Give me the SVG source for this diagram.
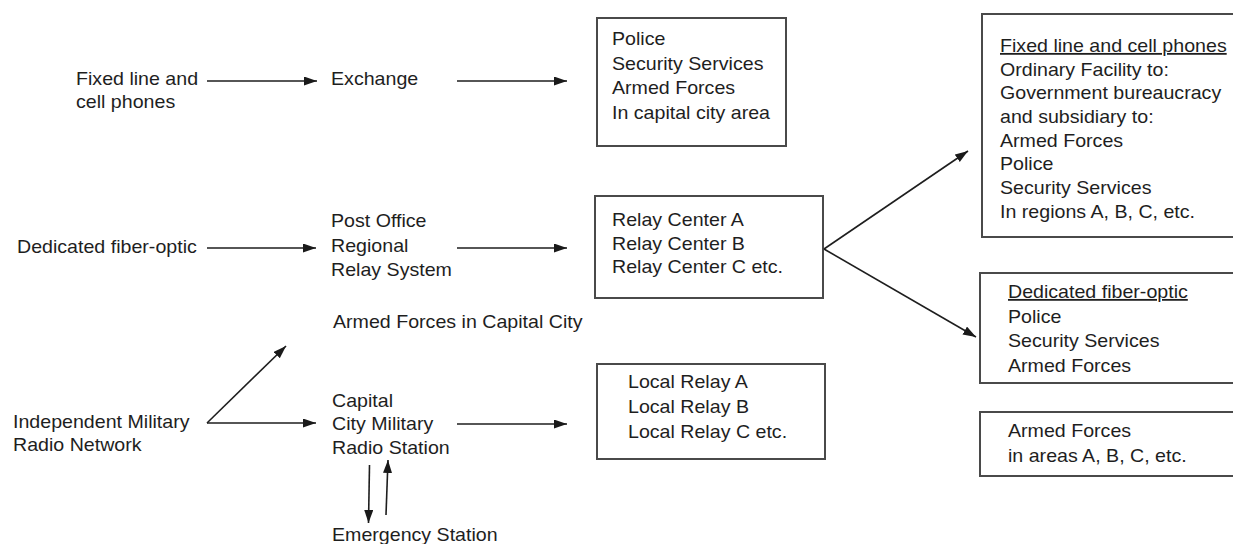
<svg xmlns="http://www.w3.org/2000/svg" width="1233" height="544" viewBox="0 0 1233 544">
<defs>
<marker id="ah" markerUnits="userSpaceOnUse" markerWidth="14" markerHeight="10" refX="13" refY="4.5" orient="auto">
<path d="M0,0 L13,4.5 L0,9 z" fill="#1a1a1a"/>
</marker>
</defs>
<style>
.t{font-family:"Liberation Sans",Arial,Helvetica,sans-serif;font-size:18px;fill:#1e1e1e}
.box{fill:#fff;stroke:#4a4a4a;stroke-width:2}
.c{stroke:#1e1e1e;stroke-width:1.6;fill:none;marker-end:url(#ah)}
.u{text-decoration:underline}
</style>
<rect width="1233" height="544" fill="#fff"/>
<g id="n-fixed-src"><text class="t" transform="translate(76,85) scale(1.09,1)"><tspan x="0" y="0">Fixed line and</tspan><tspan x="0" y="23">cell phones</tspan></text></g>
<g id="n-exchange"><text class="t" transform="translate(331,85) scale(1.09,1)">Exchange</text></g>
<g id="n-capital-services"><rect class="box" x="597" y="18" width="189" height="128"/><text class="t" transform="translate(612,45) scale(1.09,1)"><tspan x="0" y="0">Police</tspan><tspan x="0" y="25">Security Services</tspan><tspan x="0" y="49">Armed Forces</tspan><tspan x="0" y="74">In capital city area</tspan></text></g>
<g id="n-fixed-dest"><rect class="box" x="982" y="14" width="260" height="223"/><text class="t" transform="translate(1000,52) scale(1.09,1)"><tspan x="0" y="0" class="u">Fixed line and cell phones</tspan><tspan x="0" y="24">Ordinary Facility to:</tspan><tspan x="0" y="47">Government bureaucracy</tspan><tspan x="0" y="71">and subsidiary to:</tspan><tspan x="0" y="95">Armed Forces</tspan><tspan x="0" y="118">Police</tspan><tspan x="0" y="142">Security Services</tspan><tspan x="0" y="166">In regions A, B, C, etc.</tspan></text></g>
<g id="n-fiber-src"><text class="t" transform="translate(17,253) scale(1.09,1)">Dedicated fiber-optic</text></g>
<g id="n-postoffice"><text class="t" transform="translate(331,227) scale(1.09,1)"><tspan x="0" y="0">Post Office</tspan><tspan x="0" y="25">Regional</tspan><tspan x="0" y="49">Relay System</tspan></text></g>
<g id="n-relay-centers"><rect class="box" x="595" y="196" width="228" height="102"/><text class="t" transform="translate(612,226) scale(1.09,1)"><tspan x="0" y="0">Relay Center A</tspan><tspan x="0" y="24">Relay Center B</tspan><tspan x="0" y="47">Relay Center C etc.</tspan></text></g>
<g id="n-fiber-dest"><rect class="box" x="980" y="273" width="262" height="110"/><text class="t" transform="translate(1008,298) scale(1.09,1)"><tspan x="0" y="0" class="u">Dedicated fiber-optic</tspan><tspan x="0" y="25">Police</tspan><tspan x="0" y="49">Security Services</tspan><tspan x="0" y="74">Armed Forces</tspan></text></g>
<g id="n-armed-capital"><text class="t" transform="translate(333,328) scale(1.09,1)">Armed Forces in Capital City</text></g>
<g id="n-radio-src"><text class="t" transform="translate(13,428) scale(1.09,1)"><tspan x="0" y="0">Independent Military</tspan><tspan x="0" y="23">Radio Network</tspan></text></g>
<g id="n-radio-station"><text class="t" transform="translate(332,407) scale(1.09,1)"><tspan x="0" y="0">Capital</tspan><tspan x="0" y="23">City Military</tspan><tspan x="0" y="47">Radio Station</tspan></text></g>
<g id="n-local-relays"><rect class="box" x="597" y="364" width="228" height="95"/><text class="t" transform="translate(628,388) scale(1.09,1)"><tspan x="0" y="0">Local Relay A</tspan><tspan x="0" y="25">Local Relay B</tspan><tspan x="0" y="50">Local Relay C etc.</tspan></text></g>
<g id="n-armed-areas"><rect class="box" x="980" y="412" width="262" height="64"/><text class="t" transform="translate(1008,437) scale(1.09,1)"><tspan x="0" y="0">Armed Forces</tspan><tspan x="0" y="25">in areas A, B, C, etc.</tspan></text></g>
<g id="n-emergency"><text class="t" transform="translate(332,541) scale(1.09,1)">Emergency Station</text></g>
<g id="connectors">
<line class="c" x1="207" y1="81" x2="317" y2="81"/>
<line class="c" x1="457" y1="81" x2="567" y2="81"/>
<line class="c" x1="207" y1="248" x2="316" y2="248"/>
<line class="c" x1="457" y1="248" x2="567" y2="248"/>
<line class="c" x1="824" y1="249" x2="968" y2="151"/>
<line class="c" x1="824" y1="249" x2="976" y2="337"/>
<line class="c" x1="207" y1="423" x2="286" y2="346"/>
<line class="c" x1="207" y1="423" x2="316" y2="423"/>
<line class="c" x1="457" y1="424" x2="567" y2="424"/>
<line class="c" x1="369.5" y1="465" x2="368.5" y2="523"/>
<line class="c" x1="386" y1="515" x2="388" y2="460"/>
</g>
</svg>
